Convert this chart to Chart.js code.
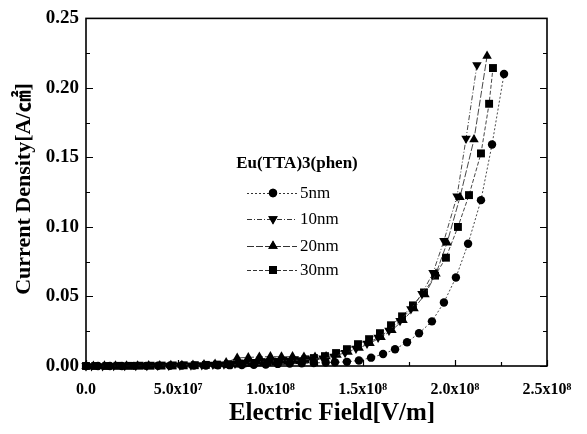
<!DOCTYPE html>
<html>
<head>
<meta charset="utf-8">
<script src="https://cdn.jsdelivr.net/npm/chart.js@4/dist/chart.umd.min.js"></script>
<style>
  html, body { margin: 0; padding: 0; background: #fff; }
  canvas { display: block; }
</style>
</head>
<body>
<canvas id="jv" width="587" height="434"></canvas>
<script>
// Electric field (V/m) and current density (A/cm2) for each Eu(TTA)3(phen) layer thickness
const field5 = [0, 0.065e8, 0.13e8, 0.195e8, 0.26e8, 0.325e8, 0.39e8, 0.455e8, 0.52e8, 0.585e8,
  0.65e8, 0.715e8, 0.78e8, 0.845e8, 0.91e8, 0.975e8, 1.04e8, 1.105e8, 1.17e8, 1.235e8,
  1.30e8, 1.35e8, 1.415e8, 1.48e8, 1.546e8, 1.611e8, 1.676e8, 1.741e8, 1.806e8, 1.876e8,
  1.941e8, 2.006e8, 2.072e8, 2.142e8, 2.202e8, 2.267e8];
const current5 = [0, 0, 0, 0, 0.0001, 0.0001, 0.0002, 0.0002, 0.0003, 0.0003,
  0.0004, 0.0005, 0.0006, 0.0007, 0.0008, 0.001, 0.0015, 0.0018, 0.002, 0.0022,
  0.0025, 0.0027, 0.003, 0.004, 0.006, 0.0086, 0.0121, 0.0171, 0.0236, 0.0321,
  0.0457, 0.0636, 0.0879, 0.1193, 0.1593, 0.21];

const field10 = [0, 0.03e8, 0.09e8, 0.15e8, 0.21e8, 0.27e8, 0.33e8, 0.389e8, 0.449e8, 0.509e8,
  0.569e8, 0.628e8, 0.688e8, 0.748e8, 0.808e8, 0.867e8, 0.927e8, 0.987e8, 1.046e8, 1.106e8,
  1.166e8, 1.225e8, 1.285e8, 1.345e8, 1.405e8, 1.464e8, 1.524e8, 1.584e8, 1.643e8, 1.703e8,
  1.762e8, 1.822e8, 1.882e8, 1.941e8, 2.012e8, 2.061e8, 2.120e8];
const current10 = [0, 0, 0, 0.0001, 0.0001, 0.0002, 0.0002, 0.0003, 0.0004, 0.0005,
  0.0006, 0.0008, 0.001, 0.0013, 0.0018, 0.0025, 0.003, 0.0035, 0.0038, 0.004,
  0.0043, 0.0048, 0.0055, 0.0068, 0.0095, 0.0125, 0.0162, 0.0205, 0.0255, 0.0325,
  0.041, 0.052, 0.0671, 0.09, 0.1221, 0.1636, 0.2164];

const field20 = [0, 0.04e8, 0.10e8, 0.16e8, 0.22e8, 0.28e8, 0.34e8, 0.40e8, 0.46e8, 0.52e8,
  0.58e8, 0.64e8, 0.70e8, 0.76e8, 0.82e8, 0.88e8, 0.94e8, 1.00e8, 1.06e8, 1.12e8,
  1.182e8, 1.242e8, 1.302e8, 1.361e8, 1.421e8, 1.481e8, 1.540e8, 1.600e8, 1.659e8, 1.719e8,
  1.779e8, 1.838e8, 1.898e8, 1.958e8, 2.028e8, 2.104e8, 2.175e8];
const current20 = [0, 0, 0.0001, 0.0001, 0.0002, 0.0002, 0.0003, 0.0004, 0.0005, 0.0006,
  0.0008, 0.001, 0.0015, 0.0025, 0.0058, 0.0062, 0.0065, 0.0068, 0.0066, 0.0068,
  0.0065, 0.0064, 0.0068, 0.0079, 0.01, 0.0129, 0.0164, 0.0207, 0.0257, 0.0329,
  0.0414, 0.0514, 0.0664, 0.0886, 0.1214, 0.1629, 0.2229];

const field30 = [0, 0.05e8, 0.11e8, 0.17e8, 0.23e8, 0.29e8, 0.35e8, 0.41e8, 0.47e8, 0.53e8,
  0.59e8, 0.65e8, 0.71e8, 0.77e8, 0.83e8, 0.89e8, 0.95e8, 1.01e8, 1.07e8, 1.13e8,
  1.19e8, 1.236e8, 1.296e8, 1.356e8, 1.415e8, 1.475e8, 1.535e8, 1.594e8, 1.654e8, 1.714e8,
  1.773e8, 1.833e8, 1.893e8, 1.952e8, 2.017e8, 2.077e8, 2.142e8, 2.186e8, 2.207e8];
const current30 = [0, 0, 0, 0.0001, 0.0001, 0.0002, 0.0002, 0.0003, 0.0004, 0.0005,
  0.0006, 0.0008, 0.001, 0.0013, 0.0017, 0.0022, 0.0027, 0.0032, 0.0037, 0.0042,
  0.0048, 0.0057, 0.0071, 0.0093, 0.0121, 0.0157, 0.0193, 0.0236, 0.0293, 0.0357,
  0.0436, 0.0529, 0.065, 0.0779, 0.1, 0.1229, 0.1529, 0.1886, 0.2143];

const seriesLabels = ['5nm', '10nm', '20nm', '30nm'];
const legendTitle = 'Eu(TTA)3(phen)';
const xTickLabels = { 0: '0.0', 50000000: '5.0x10\u2077', 100000000: '1.0x10\u2078',
  150000000: '1.5x10\u2078', 200000000: '2.0x10\u2078', 250000000: '2.5x10\u2078' };
const xTitle = 'Electric Field[V/m]';
const yTitle = 'Current Density[A/\u33A0]';

const SERIF = '"Liberation Serif", "Times New Roman", "Noto Sans CJK SC", serif';

function pairs(xs, ys) { return xs.map((x, i) => ({ x: x, y: ys[i] })); }

const styles = [
  { pointStyle: 'circle', radius: 4.2, rotation: 0, dash: [2, 2] },
  { pointStyle: 'triangle', radius: 5.5, rotation: 180, dash: [5, 2, 1, 2] },
  { pointStyle: 'triangle', radius: 5.5, rotation: 0, dash: [7, 2] },
  { pointStyle: 'rect', radius: 5.6, rotation: 0, dash: [4, 2] }
];
const allData = [pairs(field5, current5), pairs(field10, current10), pairs(field20, current20), pairs(field30, current30)];

const datasets = allData.map((d, i) => ({
  label: seriesLabels[i],
  data: d,
  borderColor: '#333',
  borderWidth: 0.9,
  borderDash: styles[i].dash,
  backgroundColor: '#000',
  pointBackgroundColor: '#000',
  pointBorderColor: '#000',
  pointBorderWidth: 0,
  pointStyle: styles[i].pointStyle,
  pointRadius: styles[i].radius,
  pointRotation: styles[i].rotation,
  tension: 0,
  clip: false
}));

// Frame, inward tick marks, axis titles and the in-plot legend
const decorations = {
  id: 'decorations',
  afterDraw(chart) {
    const { ctx, chartArea: a, scales } = chart;
    const xs = scales.x, ys = scales.y;
    ctx.save();
    ctx.strokeStyle = '#000';
    ctx.lineWidth = 1.6;
    ctx.strokeRect(a.left, a.top, a.right - a.left, a.bottom - a.top);

    ctx.lineWidth = 1.2;
    ctx.beginPath();
    for (let v = 0; v <= 0.25 + 1e-9; v += 0.025) {
      const y = Math.round(ys.getPixelForValue(v)) + 0.5;
      const major = Math.abs(v / 0.05 - Math.round(v / 0.05)) < 1e-6;
      const len = major ? 7 : 4;
      ctx.moveTo(a.left, y); ctx.lineTo(a.left + len, y);
      ctx.moveTo(a.right, y); ctx.lineTo(a.right - len, y);
    }
    for (let v = 0; v <= 2.5e8 + 1; v += 2.5e7) {
      const x = Math.round(xs.getPixelForValue(v)) + 0.5;
      const major = Math.abs(v / 5e7 - Math.round(v / 5e7)) < 1e-6;
      const len = major ? 6 : 4;
      ctx.moveTo(x, a.bottom); ctx.lineTo(x, a.bottom - len);
    }
    ctx.stroke();

    // axis titles
    ctx.fillStyle = '#000';
    ctx.font = 'bold 25px ' + SERIF;
    ctx.textAlign = 'center';
    ctx.textBaseline = 'middle';
    ctx.fillText(xTitle, 332, 414);
    ctx.save();
    ctx.translate(24, 189);
    ctx.rotate(-Math.PI / 2);
    ctx.font = 'bold 22px ' + SERIF;
    ctx.fillText(yTitle, 0, 0);
    ctx.restore();

    // legend
    ctx.font = 'bold 17px ' + SERIF;
    ctx.textAlign = 'center';
    ctx.fillText(legendTitle, 297, 164);
    const rows = [193, 219, 246, 270];
    ctx.font = '17px ' + SERIF;
    ctx.textAlign = 'left';
    rows.forEach((ry, i) => {
      ctx.save();
      ctx.strokeStyle = '#333';
      ctx.lineWidth = 1;
      ctx.setLineDash(styles[i].dash);
      ctx.beginPath();
      ctx.moveTo(247, ry + 0.5); ctx.lineTo(297, ry + 0.5);
      ctx.stroke();
      ctx.restore();
      ctx.fillStyle = '#000';
      Chart.helpers.drawPoint(ctx, {
        pointStyle: styles[i].pointStyle,
        rotation: styles[i].rotation,
        radius: styles[i].radius,
        borderWidth: 0
      }, 273, ry);
      ctx.fill();
      ctx.fillText(seriesLabels[i], 300, ry + 1);
    });
    ctx.restore();
  }
};

new Chart(document.getElementById('jv'), {
  type: 'line',
  data: { datasets: datasets },
  options: {
    responsive: false,
    animation: false,
    layout: { padding: { top: 16, right: 40, left: 0, bottom: 0 } },
    plugins: { legend: { display: false }, tooltip: { enabled: false } },
    scales: {
      x: {
        type: 'linear',
        min: 0, max: 2.5e8,
        grid: { display: false, drawTicks: false },
        border: { display: false },
        ticks: {
          stepSize: 5e7,
          padding: 14,
          color: '#000',
          maxRotation: 0,
          autoSkip: false,
          font: { family: SERIF, size: 16, weight: 'bold' },
          callback: v => xTickLabels[v] !== undefined ? xTickLabels[v] : ''
        },
        afterFit(s) { s.height = 68; }
      },
      y: {
        type: 'linear',
        min: 0, max: 0.25,
        grid: { display: false, drawTicks: false },
        border: { display: false },
        ticks: {
          stepSize: 0.05,
          padding: 7,
          color: '#000',
          font: { family: SERIF, size: 19, weight: 'bold' },
          callback: v => v.toFixed(2)
        },
        afterFit(s) { s.width = 86; }
      }
    }
  },
  plugins: [decorations]
});
</script>
</body>
</html>
